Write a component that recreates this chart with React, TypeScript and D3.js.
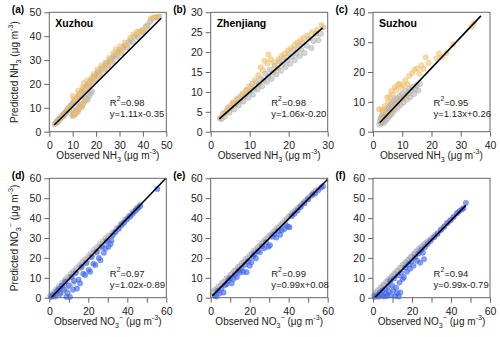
import React, { useEffect, useRef } from "react"
import * as d3 from "d3"

// panel text + axes
const panelTags = ["(a)", "(b)", "(c)", "(d)", "(e)", "(f)"]
const siteNames = ["Xuzhou", "Zhenjiang", "Suzhou", "", "", ""]
const r2Values = ["0.98", "0.98", "0.95", "0.97", "0.99", "0.94"]
const fitEquations = ["y=1.11x-0.35", "y=1.06x-0.20", "y=1.13x+0.26", "y=1.02x-0.89", "y=0.99x+0.08", "y=0.99x-0.79"]
const axisMax = [50, 30, 40, 60, 60, 60]
const yTickStep = [10, 5, 10, 10, 10, 10]
const xTickStep = [10, 10, 10, 10, 10, 10]
const xLabelStep = [10, 10, 10, 20, 20, 20]

// fitted line ends [x1, y1, x2, y2]
const fitLines = [
  [2.1, 2.8, 47.8, 47.5],
  [2.2, 3.2, 28.7, 26.1],
  [2.3, 3.0, 36.9, 38.8],
  [0.9, 0.0, 59.8, 60.0],
  [0.8, 0.9, 60.0, 59.5],
  [0.8, 0.0, 47.6, 46.4]
]

// NH3 Xuzhou
const grayA = [[2.3,3.2],[2.8,3.6],[3.2,4.4],[3.6,4.0],[4.0,5.1],[4.4,5.6],[4.8,5.3],[5.2,6.4],[5.6,6.9],[6.0,6.5],[6.4,7.6],[6.8,8.2],[7.2,7.8],[7.6,9.0],[8.0,9.6],[8.4,9.2],[8.8,10.4],[9.2,11.0],[9.6,10.5],[10.0,11.8],[10.4,12.6],[10.8,11.9],[11.2,13.4],[11.6,14.0],[12.0,13.2],[12.4,15.0],[12.8,15.6],[13.2,14.6],[13.6,16.4],[14.0,17.0],[14.4,16.0],[14.8,18.0],[15.2,18.4],[15.6,17.5],[16.0,19.4],[16.5,20.0],[17.0,19.0],[17.5,21.2],[18.0,21.8],[18.5,20.8],[19.0,23.0],[19.5,23.4],[20.0,22.4],[20.5,24.6],[21.0,25.2],[21.6,24.2],[22.2,26.4],[22.8,27.0],[23.4,26.0],[24.0,28.2],[24.6,28.8],[25.2,27.8],[25.8,30.0],[26.4,30.6],[27.0,29.6],[27.6,31.8],[28.2,32.4],[28.8,31.4],[29.4,33.6],[30.0,34.2],[30.8,33.0],[31.6,35.4],[32.4,36.2],[33.2,35.2],[34.0,37.6],[34.8,38.4],[35.6,37.4],[36.4,39.8],[37.2,40.6],[38.0,39.4],[38.8,41.8],[39.6,42.4],[40.4,41.6],[41.2,44.0],[42.0,44.6],[43.0,46.0],[44.0,47.2],[45.0,47.8],[46.0,48.0],[47.0,48.2],[9.8,6.8],[10.2,7.4],[10.6,8.0],[11.0,7.2],[11.4,8.6],[11.8,9.2],[12.2,8.4],[12.6,9.8],[13.0,10.6],[13.5,11.2],[14.0,10.4],[14.6,12.0],[15.2,13.0],[15.8,14.0],[16.4,13.4],[17.0,15.0],[17.6,16.2],[18.2,17.0]]
const colorA = [[2.6,3.4],[3.8,4.6],[5.4,6.2],[6.6,7.4],[7.8,9.4],[8.6,10.0],[9.4,10.8],[10.0,15.0],[10.6,13.6],[11.2,12.6],[11.8,14.4],[12.4,17.2],[13.0,16.0],[13.8,15.2],[14.2,18.6],[14.8,20.4],[15.4,17.6],[16.2,21.6],[16.8,18.6],[17.4,20.4],[18.2,22.6],[19.0,24.2],[19.8,21.8],[20.6,26.2],[21.4,23.6],[22.2,27.6],[23.0,25.8],[23.8,29.0],[24.8,27.2],[25.6,31.0],[26.6,29.2],[27.4,33.0],[28.4,34.6],[29.2,32.2],[30.2,35.8],[31.2,34.0],[32.2,37.4],[33.4,36.2],[34.6,39.4],[36.0,40.8],[37.6,42.0],[38.4,41.2],[40.0,42.4],[41.6,43.6],[43.4,47.4],[44.6,48.0],[46.4,48.2],[10.2,6.6],[10.8,7.6],[11.6,8.2],[12.4,9.4],[13.2,10.0],[14.2,11.4],[15.6,13.2]]

// NH3 Zhenjiang
const grayB = [[2.4,3.4],[2.8,3.2],[3.2,4.6],[3.6,3.8],[4.0,5.0],[4.4,6.0],[4.8,4.8],[5.2,6.0],[5.6,7.2],[6.0,5.6],[6.4,6.9],[6.8,8.2],[7.2,6.6],[7.6,7.9],[8.0,9.2],[8.4,7.6],[8.8,8.9],[9.2,10.4],[9.6,8.5],[10.0,9.9],[10.4,11.4],[10.8,9.3],[11.2,10.8],[11.6,12.4],[12.0,10.6],[12.4,11.9],[12.8,13.4],[13.2,11.4],[13.6,12.9],[14.0,14.6],[14.4,12.5],[14.8,13.9],[15.2,15.6],[15.6,13.3],[16.0,14.9],[16.4,16.6],[16.8,14.4],[17.2,15.9],[17.6,17.6],[18.0,15.3],[18.4,16.9],[18.8,18.6],[19.2,16.3],[19.6,17.8],[20.0,19.6],[20.4,17.1],[20.8,18.7],[21.2,20.6],[21.6,18.0],[22.0,19.6],[22.4,21.6],[22.8,19.0],[23.2,20.6],[23.6,22.4],[24.0,19.8],[24.6,21.6],[25.2,23.4],[25.8,21.0],[26.4,22.8],[27.0,24.6],[27.6,23.0],[28.2,24.6],[28.8,26.2]]
const colorB = [[2.6,3.6],[3.4,4.6],[4.2,5.4],[5.0,6.4],[5.8,7.2],[6.6,7.8],[7.4,8.8],[8.2,9.6],[9.0,10.4],[9.8,11.4],[10.6,12.0],[11.4,13.0],[12.2,14.2],[12.8,16.2],[13.4,15.4],[13.8,17.8],[14.6,17.2],[14.8,19.4],[15.4,18.2],[16.2,17.4],[16.6,16.0],[17.4,18.2],[18.2,19.0],[19.0,19.6],[19.8,20.4],[20.6,21.0],[21.4,21.8],[22.2,22.4],[23.0,23.0],[23.8,23.6],[24.8,24.2],[26.0,25.0],[27.2,25.6],[28.4,26.8]]

// NH3 Suzhou
const grayC = [[2.2,2.4],[2.4,3.6],[2.6,4.6],[2.8,2.8],[3.0,5.4],[3.2,3.4],[3.4,4.4],[3.6,6.2],[3.8,2.9],[4.0,5.0],[4.2,7.0],[4.4,3.8],[4.6,5.8],[4.8,7.8],[5.0,4.4],[5.2,6.4],[5.4,8.4],[5.6,5.2],[5.8,7.2],[6.0,9.2],[6.2,5.8],[6.4,8.0],[6.6,10.0],[6.8,6.6],[7.0,8.6],[7.3,10.6],[7.6,7.4],[7.9,9.4],[8.2,11.2],[8.5,8.2],[8.8,10.2],[9.1,12.0],[9.4,9.0],[9.7,11.0],[10.0,12.8],[10.4,9.8],[10.8,11.8],[11.2,13.6],[11.6,10.8],[12.0,12.8],[12.4,14.4],[12.8,11.6],[13.2,13.6],[13.6,15.0],[14.0,12.6],[14.5,14.4],[15.0,15.6],[15.5,13.8],[16.0,16.0]]
const colorC = [[2.1,7.5],[2.9,7.3],[3.4,6.8],[4.0,8.6],[4.9,11.5],[5.2,10.0],[5.8,11.8],[6.2,13.6],[6.8,12.4],[7.5,14.9],[8.0,14.0],[8.6,15.8],[9.1,16.0],[9.8,14.8],[10.4,15.6],[11.0,17.2],[11.8,16.0],[12.3,18.7],[13.4,19.6],[14.2,20.8],[15.1,21.2],[15.8,19.4],[16.6,22.3],[17.2,21.0],[18.0,24.9],[19.0,23.0],[21.7,24.6],[22.6,26.2],[23.6,25.0],[25.1,26.3],[27.4,29.3],[33.7,35.2],[34.5,36.3],[3.0,3.8],[5.0,6.0],[7.0,8.0],[9.0,10.0],[11.0,11.6]]

// NO3 Xuzhou
const grayD = [[0.5,1.0],[1.5,0.8],[2.0,2.6],[3.0,2.2],[3.5,4.2],[4.5,3.8],[5.0,5.8],[6.0,5.4],[6.5,7.4],[7.5,7.0],[8.0,9.0],[9.0,8.4],[9.5,10.4],[10.5,10.0],[11.0,12.0],[12.0,11.4],[12.5,13.4],[13.5,13.0],[14.0,15.0],[15.0,14.4],[15.5,16.4],[16.5,16.0],[17.0,18.0],[18.0,17.4],[18.5,19.4],[19.5,19.0],[20.0,21.0],[21.0,20.4],[21.5,22.4],[22.5,22.0],[23.0,24.0],[24.0,23.4],[24.5,25.4],[25.5,25.0],[26.0,27.0],[27.0,26.4],[27.5,28.4],[28.5,28.0],[29.0,30.0],[30.0,29.4],[30.5,31.2],[31.5,31.0],[32.5,32.8],[33.5,33.0],[34.5,35.0],[35.5,35.0],[36.5,37.0],[37.5,37.2],[38.5,39.0],[39.5,39.2],[40.5,41.0],[41.5,41.2],[42.5,43.0],[43.5,43.2],[44.5,45.0],[45.5,45.4],[46.5,46.8],[3.0,0.5],[5.0,1.5],[7.0,3.0],[9.0,5.0],[12.0,7.0]]
const colorD = [[1.0,0.4],[2.0,1.5],[3.0,1.0],[4.0,3.4],[5.0,4.5],[5.6,2.0],[6.5,6.0],[7.5,4.0],[8.2,8.0],[8.8,0.4],[9.4,2.4],[10.0,6.0],[10.6,0.4],[11.4,10.4],[12.2,4.0],[12.8,8.4],[13.6,12.4],[14.2,4.6],[15.0,9.0],[15.8,7.2],[16.6,15.4],[17.4,12.0],[18.4,11.4],[19.0,17.4],[20.2,14.0],[21.0,13.0],[21.8,20.4],[22.6,17.0],[23.6,16.4],[24.4,23.0],[25.4,20.0],[26.2,18.8],[27.0,25.6],[28.0,22.6],[28.8,24.8],[29.6,28.4],[30.4,25.6],[31.4,27.0],[31.8,28.8],[32.6,31.4],[34.0,33.0],[35.6,34.6],[37.0,36.4],[38.4,37.8],[40.0,39.6],[41.4,40.8],[42.8,42.2],[44.2,43.8],[45.4,44.8],[46.6,46.0],[55.4,54.6]]

// NO3 Zhenjiang
const grayE = [[1.0,2.6],[2.0,3.8],[3.0,4.4],[4.0,5.6],[5.0,6.2],[6.0,7.6],[7.0,8.0],[8.0,9.6],[9.0,10.0],[10.0,11.4],[11.0,12.0],[12.0,13.4],[13.0,14.0],[14.0,15.4],[15.0,16.0],[16.0,17.4],[17.0,18.0],[18.0,19.4],[19.0,20.0],[20.0,21.4],[21.0,22.0],[22.0,23.4],[23.0,24.0],[24.0,25.2],[25.0,26.0],[26.0,27.2],[27.0,28.0],[28.0,29.2],[29.0,30.0],[30.0,31.2],[31.0,31.8],[32.0,33.0],[33.0,33.8],[34.0,35.0],[35.0,35.6],[36.0,36.8],[37.0,37.6],[38.0,38.8],[39.0,39.6],[40.0,40.8],[41.0,41.4],[42.0,42.6],[43.0,43.4],[44.0,44.4],[45.0,45.4],[46.0,46.2],[47.0,47.4],[48.0,48.2],[49.0,49.2],[50.0,50.2],[51.0,51.0],[52.0,52.2],[53.0,53.0],[54.0,54.0]]
const colorE = [[2.0,1.0],[3.0,0.6],[3.6,3.4],[4.6,2.2],[5.6,4.6],[6.6,2.6],[7.4,6.4],[8.2,6.8],[9.0,8.6],[10.0,9.8],[10.8,7.2],[11.6,9.4],[12.4,11.6],[13.4,10.4],[14.2,13.6],[15.0,12.6],[15.8,14.8],[16.8,13.0],[17.6,16.6],[18.4,12.8],[19.2,18.4],[20.0,16.0],[20.8,17.8],[21.6,20.6],[22.4,21.8],[23.2,19.8],[24.2,23.4],[25.2,22.8],[26.4,25.8],[27.4,24.8],[28.4,27.8],[29.6,25.6],[30.4,26.4],[31.4,30.6],[32.6,31.8],[33.6,30.2],[34.6,33.6],[35.6,31.6],[36.4,33.8],[37.6,34.4],[38.6,36.6],[39.6,35.6],[40.4,35.4],[41.6,41.0],[43.0,42.2],[44.6,43.8],[46.2,45.6],[48.0,47.4],[50.0,49.4],[52.2,51.6],[53.6,52.4],[55.2,54.0],[56.6,55.4],[57.6,56.0]]

// NO3 Suzhou
const grayF = [[0.5,1.2],[1.2,2.4],[2.0,2.4],[2.6,3.8],[3.4,3.8],[4.0,5.2],[4.8,5.2],[5.4,6.6],[6.2,6.6],[6.8,8.0],[7.6,8.0],[8.2,9.4],[9.0,9.4],[9.6,10.8],[10.4,10.8],[11.0,12.2],[11.8,12.2],[12.4,13.6],[13.2,13.6],[13.8,15.0],[14.6,15.0],[15.2,16.4],[16.0,16.4],[16.6,17.8],[17.4,17.8],[18.0,19.2],[18.8,19.2],[19.4,20.6],[20.2,20.6],[20.8,22.0],[21.6,22.0],[22.2,23.4],[23.0,23.4],[23.6,24.8],[24.4,24.8],[25.2,26.0],[26.2,26.8],[27.2,27.6],[28.2,28.4],[29.4,29.4],[30.6,30.4],[32.0,31.6],[33.4,32.8],[35.0,34.4],[36.6,36.0],[38.2,37.6],[40.0,39.2],[41.8,41.0],[43.6,42.8]]
const colorF = [[1.0,0.4],[2.0,1.2],[3.0,0.5],[3.6,2.6],[4.4,1.4],[5.0,3.6],[5.6,0.6],[6.2,4.4],[6.8,2.0],[7.2,0.8],[7.6,5.6],[8.2,3.0],[8.8,8.4],[9.2,1.2],[9.8,6.2],[10.4,3.8],[10.8,9.6],[11.4,0.8],[11.8,5.0],[12.4,2.2],[12.8,11.2],[13.2,0.6],[13.6,7.6],[14.0,2.6],[14.4,12.6],[15.2,9.4],[15.8,10.4],[16.6,15.2],[17.4,13.0],[18.2,16.8],[19.0,14.6],[19.8,18.2],[20.8,16.0],[21.6,20.4],[22.6,18.6],[23.4,22.2],[24.2,17.6],[24.8,24.0],[25.6,22.6],[26.2,19.4],[26.6,25.4],[28.0,27.0],[29.6,28.6],[31.4,30.4],[33.0,32.0],[34.8,34.0],[36.4,35.6],[38.0,37.4],[39.6,38.8],[41.2,40.4],[43.0,42.4],[44.4,43.6],[45.6,44.4],[46.4,45.0],[47.6,47.6]]

const grayPoints = [grayA, grayB, grayC, grayD, grayE, grayF]
const colorPoints = [colorA, colorB, colorC, colorD, colorE, colorF]

const FONT = "'Liberation Sans', Arial, sans-serif"
const colLeft = [49.3, 210.7, 373]
const rowTop = [12.3, 178.3]
const PW = 117
const PH = 119.4

// text with sub/superscript pieces
function richText(sel, parts, size) {
  let shift = 0
  parts.forEach(([txt, kind]) => {
    const target = kind === "sub" ? 3 : kind === "sup" ? -5 : 0
    sel.append("tspan")
      .attr("dy", target - shift)
      .attr("font-size", kind ? size * 0.72 : size)
      .text(txt)
    shift = target
  })
}

function ScatterPanels() {
  const ref = useRef()

  useEffect(() => {
    const svg = d3.select(ref.current)
    svg.selectAll("*").remove()

    panelTags.forEach((tag, i) => {
      const row = Math.floor(i / 3)
      const col = i % 3
      const left = colLeft[col]
      const top = rowTop[row]
      const max = axisMax[i]

      const x = d3.scaleLinear().domain([0, max]).range([0, PW])
      const y = d3.scaleLinear().domain([0, max]).range([PH, 0])

      const g = svg.append("g").attr("transform", `translate(${left},${top})`)

      // points: grey first, coloured on top
      const isNH3 = row === 0
      g.append("g").selectAll("circle")
        .data(grayPoints[i])
        .enter()
        .append("circle")
        .attr("cx", d => x(d[0]))
        .attr("cy", d => y(d[1]))
        .attr("r", 2.7)
        .attr("fill", "#b9b9b9")
        .attr("fill-opacity", 0.6)
        .attr("stroke", "#a0a0a0")
        .attr("stroke-opacity", 0.6)
        .attr("stroke-width", 0.6)

      g.append("g").selectAll("circle")
        .data(colorPoints[i])
        .enter()
        .append("circle")
        .attr("cx", d => x(d[0]))
        .attr("cy", d => y(d[1]))
        .attr("r", 2.7)
        .attr("fill", isNH3 ? "#f3c26a" : "#3a66f0")
        .attr("fill-opacity", isNH3 ? 0.6 : 0.62)
        .attr("stroke", isNH3 ? "#eab050" : "#2f58e6")
        .attr("stroke-opacity", 0.5)
        .attr("stroke-width", 0.6)

      const fl = fitLines[i]
      g.append("line")
        .attr("x1", x(fl[0])).attr("y1", y(fl[1]))
        .attr("x2", x(fl[2])).attr("y2", y(fl[3]))
        .attr("stroke", "#000")
        .attr("stroke-width", 1.6)

      // frame
      g.append("rect")
        .attr("width", PW).attr("height", PH)
        .attr("fill", "none")
        .attr("stroke", "#666")
        .attr("stroke-width", 1)

      const yAxis = g.append("g")
        .call(d3.axisLeft(y).tickValues(d3.range(0, max + 0.01, yTickStep[i])).tickSize(5).tickSizeOuter(0).tickPadding(3))
      const xAxis = g.append("g")
        .attr("transform", `translate(0,${PH})`)
        .call(d3.axisBottom(x).tickValues(d3.range(0, max + 0.01, xTickStep[i]))
          .tickFormat(d => (d % xLabelStep[i] === 0 ? d : ""))
          .tickSize(5).tickSizeOuter(0).tickPadding(5))
      ;[yAxis, xAxis].forEach(a => {
        a.select(".domain").remove()
        a.selectAll("line").attr("stroke", "#666")
        a.selectAll("text").attr("font-family", FONT).attr("font-size", 10.5).attr("fill", "#222")
      })

      // labels
      svg.append("text")
        .attr("x", left - 37.5).attr("y", top + 1)
        .attr("font-family", FONT).attr("font-size", 10).attr("font-weight", "bold")
        .text(tag)

      if (siteNames[i]) {
        g.append("text")
          .attr("x", 6).attr("y", 15)
          .attr("font-family", FONT).attr("font-size", 10.5).attr("font-weight", "bold")
          .text(siteNames[i])
      }

      const statY = row === 0 ? [93.5, 104.5] : [98.5, 110]
      richText(g.append("text").attr("x", 60.5).attr("y", statY[0]).attr("font-family", FONT).attr("fill", "#222"),
        [["R"], ["2", "sup"], ["=" + r2Values[i]]], 9.5)
      g.append("text")
        .attr("x", 60.5).attr("y", statY[1])
        .attr("font-family", FONT).attr("font-size", 9.5).attr("fill", "#222")
        .text(fitEquations[i])

      const xl = g.append("text")
        .attr("x", PW / 2).attr("y", PH + 27.5)
        .attr("text-anchor", "middle")
        .attr("font-family", FONT).attr("fill", "#222")
      richText(xl, isNH3
        ? [["Observed NH"], ["3", "sub"], [" (μg m"], ["-3", "sup"], [")"]]
        : [["Observed NO"], ["3", "sub"], ["−", "sup"], ["  (μg m"], ["-3", "sup"], [")"]], 10)

      if (col === 0) {
        const yl = svg.append("text")
          .attr("transform", `translate(17.5,${top + PH / 2}) rotate(-90)`)
          .attr("text-anchor", "middle")
          .attr("font-family", FONT).attr("fill", "#222")
        richText(yl, isNH3
          ? [["Predicted NH"], ["3", "sub"], [" (μg m"], ["-3", "sup"], [")"]]
          : [["Predicted NO"], ["3", "sub"], ["−", "sup"], ["  (μg m"], ["-3", "sup"], [")"]], 10)
      }
    })
  }, [])

  return <svg ref={ref} width={500} height={337} style={{ position: "absolute", left: 0, top: 0, background: "#fff" }}></svg>
}

export default function App() {
  return <ScatterPanels />
}
